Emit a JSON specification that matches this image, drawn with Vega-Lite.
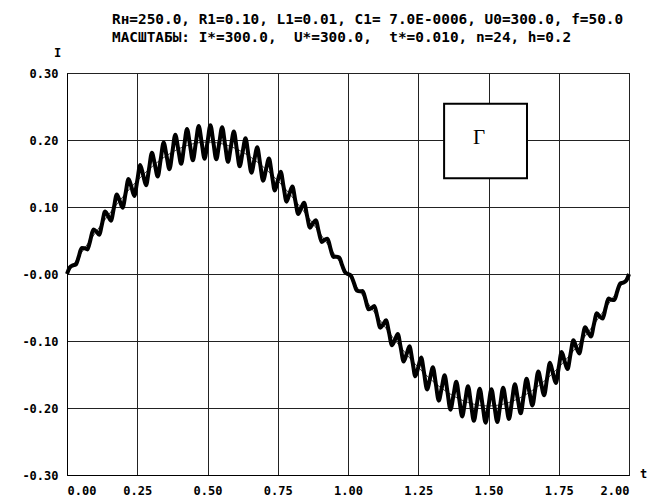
{
 "$schema": "https://vega.github.io/schema/vega-lite/v6.json",
 "width": 562, "height": 402,
 "autosize": {"type": "none"},
 "padding": {"left": 67, "top": 73, "right": 29, "bottom": 25},
 "background": "white",
 "title": {"text": ["Rн=250.0, R1=0.10, L1=0.01, C1= 7.0E-0006, U0=300.0, f=50.0", "МАСШТАБЫ: I*=300.0,\u00a0 U*=300.0,\u00a0 t*=0.010, n=24, h=0.2"], "anchor": "start", "frame": "group", "dx": 45, "font": "DejaVu Sans Mono", "fontSize": 14.4, "fontWeight": "bold", "lineHeight": 18, "offset": 1, "color": "#000"},
 "config": {
  "view": {"stroke": "#000", "strokeWidth": 1},
  "axis": {"grid": true, "gridColor": "#222", "gridOpacity": 1, "domainColor": "#000", "ticks": false, "labelFont": "DejaVu Sans Mono", "labelFontSize": 12, "labelFontWeight": "bold", "labelColor": "#000", "titleFont": "DejaVu Sans Mono", "titleFontSize": 12, "titleFontWeight": "bold", "titleColor": "#000"}
 },
 "datasets": {
  "base": [
   {"t":0,"i":0},{"t":0.0833,"i":0.051},{"t":0.1667,"i":0.0985},{"t":0.25,"i":0.1393},{"t":0.3333,"i":0.1706},{"t":0.4167,"i":0.1903},{"t":0.5,"i":0.197},{"t":0.5833,"i":0.1903},{"t":0.6667,"i":0.1706},{"t":0.75,"i":0.1393},{"t":0.8333,"i":0.0985},{"t":0.9167,"i":0.051},{"t":1,"i":0},
   {"t":1.0833,"i":-0.051},{"t":1.1667,"i":-0.0985},{"t":1.25,"i":-0.1393},{"t":1.3333,"i":-0.1706},{"t":1.4167,"i":-0.1903},{"t":1.5,"i":-0.197},{"t":1.5833,"i":-0.1903},{"t":1.6667,"i":-0.1706},{"t":1.75,"i":-0.1393},{"t":1.8333,"i":-0.0985},{"t":1.9167,"i":-0.051},{"t":2,"i":0}
  ],
  "ripple": [
   {"t":0,"i":0},{"t":0.0104,"i":0.0102},{"t":0.0208,"i":0.0129},{"t":0.0313,"i":0.0142},{"t":0.0417,"i":0.0257},{"t":0.0521,"i":0.0387},{"t":0.0625,"i":0.0384},{"t":0.0729,"i":0.0367},{"t":0.0833,"i":0.051},{"t":0.0938,"i":0.0666},{"t":0.1042,"i":0.0633},{"t":0.1146,"i":0.0586},{"t":0.125,"i":0.0754},{"t":0.1354,"i":0.0934},{"t":0.1458,"i":0.0871},{"t":0.1563,"i":0.0795},{"t":0.1667,"i":0.0985},{"t":0.1771,"i":0.1186},{"t":0.1875,"i":0.1094},{"t":0.1979,"i":0.0989},{"t":0.2083,"i":0.1199},{"t":0.2188,"i":0.1419},{"t":0.2292,"i":0.1299},{"t":0.2396,"i":0.1166},{"t":0.25,"i":0.1393},{"t":0.2604,"i":0.1628},{"t":0.2708,"i":0.1481},{"t":0.2813,"i":0.1323},{"t":0.2917,"i":0.1563},{"t":0.3021,"i":0.181},{"t":0.3125,"i":0.1638},{"t":0.3229,"i":0.1456},{"t":0.3333,"i":0.1706},{"t":0.3438,"i":0.1961},{"t":0.3542,"i":0.1767},{"t":0.3646,"i":0.1564},{"t":0.375,"i":0.182},{"t":0.3854,"i":0.208},{"t":0.3958,"i":0.1865},{"t":0.4063,"i":0.1645},{"t":0.4167,"i":0.1903},{"t":0.4271,"i":0.2163},{"t":0.4375,"i":0.1932},{"t":0.4479,"i":0.1697},{"t":0.4583,"i":0.1953},{"t":0.4688,"i":0.2209},{"t":0.4792,"i":0.1966},{"t":0.4896,"i":0.1719},
   {"t":0.5,"i":0.197},{"t":0.5104,"i":0.2219},{"t":0.5208,"i":0.1966},{"t":0.5313,"i":0.1712},{"t":0.5417,"i":0.1953},{"t":0.5521,"i":0.2191},{"t":0.5625,"i":0.1932},{"t":0.5729,"i":0.1674},{"t":0.5833,"i":0.1903},{"t":0.5938,"i":0.2126},{"t":0.6042,"i":0.1865},{"t":0.6146,"i":0.1608},{"t":0.625,"i":0.182},{"t":0.6354,"i":0.2025},{"t":0.6458,"i":0.1767},{"t":0.6563,"i":0.1513},{"t":0.6667,"i":0.1706},{"t":0.6771,"i":0.189},{"t":0.6875,"i":0.1638},{"t":0.6979,"i":0.1393},{"t":0.7083,"i":0.1563},{"t":0.7188,"i":0.1723},{"t":0.7292,"i":0.1481},{"t":0.7396,"i":0.1247},{"t":0.75,"i":0.1393},{"t":0.7604,"i":0.1527},{"t":0.7708,"i":0.1299},{"t":0.7813,"i":0.108},{"t":0.7917,"i":0.1199},{"t":0.8021,"i":0.1306},{"t":0.8125,"i":0.1094},{"t":0.8229,"i":0.0894},{"t":0.8333,"i":0.0985},{"t":0.8438,"i":0.1062},{"t":0.8542,"i":0.0871},{"t":0.8646,"i":0.0692},{"t":0.875,"i":0.0754},{"t":0.8854,"i":0.0801},{"t":0.8958,"i":0.0633},{"t":0.9063,"i":0.0478},{"t":0.9167,"i":0.051},{"t":0.9271,"i":0.0527},{"t":0.9375,"i":0.0384},{"t":0.9479,"i":0.0255},{"t":0.9583,"i":0.0257},{"t":0.9688,"i":0.0245},{"t":0.9792,"i":0.0129},{"t":0.9896,"i":0.0027},
   {"t":1,"i":0},{"t":1.0104,"i":-0.0027},{"t":1.0208,"i":-0.0129},{"t":1.0313,"i":-0.0245},{"t":1.0417,"i":-0.0257},{"t":1.0521,"i":-0.0255},{"t":1.0625,"i":-0.0384},{"t":1.0729,"i":-0.0527},{"t":1.0833,"i":-0.051},{"t":1.0938,"i":-0.0478},{"t":1.1042,"i":-0.0633},{"t":1.1146,"i":-0.0801},{"t":1.125,"i":-0.0754},{"t":1.1354,"i":-0.0692},{"t":1.1458,"i":-0.0871},{"t":1.1563,"i":-0.1062},{"t":1.1667,"i":-0.0985},{"t":1.1771,"i":-0.0894},{"t":1.1875,"i":-0.1094},{"t":1.1979,"i":-0.1306},{"t":1.2083,"i":-0.1199},{"t":1.2188,"i":-0.108},{"t":1.2292,"i":-0.1299},{"t":1.2396,"i":-0.1527},{"t":1.25,"i":-0.1393},{"t":1.2604,"i":-0.1247},{"t":1.2708,"i":-0.1481},{"t":1.2813,"i":-0.1723},{"t":1.2917,"i":-0.1563},{"t":1.3021,"i":-0.1393},{"t":1.3125,"i":-0.1638},{"t":1.3229,"i":-0.189},{"t":1.3333,"i":-0.1706},{"t":1.3438,"i":-0.1513},{"t":1.3542,"i":-0.1767},{"t":1.3646,"i":-0.2025},{"t":1.375,"i":-0.182},{"t":1.3854,"i":-0.1608},{"t":1.3958,"i":-0.1865},{"t":1.4063,"i":-0.2126},{"t":1.4167,"i":-0.1903},{"t":1.4271,"i":-0.1674},{"t":1.4375,"i":-0.1932},{"t":1.4479,"i":-0.2191},{"t":1.4583,"i":-0.1953},{"t":1.4688,"i":-0.1712},{"t":1.4792,"i":-0.1966},{"t":1.4896,"i":-0.2219},
   {"t":1.5,"i":-0.197},{"t":1.5104,"i":-0.1719},{"t":1.5208,"i":-0.1966},{"t":1.5313,"i":-0.2209},{"t":1.5417,"i":-0.1953},{"t":1.5521,"i":-0.1697},{"t":1.5625,"i":-0.1932},{"t":1.5729,"i":-0.2163},{"t":1.5833,"i":-0.1903},{"t":1.5938,"i":-0.1645},{"t":1.6042,"i":-0.1865},{"t":1.6146,"i":-0.208},{"t":1.625,"i":-0.182},{"t":1.6354,"i":-0.1564},{"t":1.6458,"i":-0.1767},{"t":1.6563,"i":-0.1961},{"t":1.6667,"i":-0.1706},{"t":1.6771,"i":-0.1456},{"t":1.6875,"i":-0.1638},{"t":1.6979,"i":-0.181},{"t":1.7083,"i":-0.1563},{"t":1.7188,"i":-0.1323},{"t":1.7292,"i":-0.1481},{"t":1.7396,"i":-0.1628},{"t":1.75,"i":-0.1393},{"t":1.7604,"i":-0.1166},{"t":1.7708,"i":-0.1299},{"t":1.7813,"i":-0.1419},{"t":1.7917,"i":-0.1199},{"t":1.8021,"i":-0.0989},{"t":1.8125,"i":-0.1094},{"t":1.8229,"i":-0.1186},{"t":1.8333,"i":-0.0985},{"t":1.8438,"i":-0.0795},{"t":1.8542,"i":-0.0871},{"t":1.8646,"i":-0.0934},{"t":1.875,"i":-0.0754},{"t":1.8854,"i":-0.0586},{"t":1.8958,"i":-0.0633},{"t":1.9063,"i":-0.0666},{"t":1.9167,"i":-0.051},{"t":1.9271,"i":-0.0367},{"t":1.9375,"i":-0.0384},{"t":1.9479,"i":-0.0387},{"t":1.9583,"i":-0.0257},{"t":1.9688,"i":-0.0142},{"t":1.9792,"i":-0.0129},{"t":1.9896,"i":-0.0102},{"t":2,"i":0}
  ],
  "box": [{"label": "Г"}]
 },
 "layer": [
  {
   "data": {"name": "base"},
   "mark": {"type": "line", "color": "#444", "strokeWidth": 1, "interpolate": "monotone"},
   "encoding": {
    "x": {"field": "t", "type": "quantitative", "scale": {"domain": [0, 2], "nice": false},
     "axis": {"values": [0, 0.25, 0.5, 0.75, 1, 1.25, 1.5, 1.75, 2], "format": ".2f", "labelPadding": 10, "title": "t", "titleX": 576, "titleY": -2, "titleAlign": "center", "titleBaseline": "middle", "titleAngle": 0}},
    "y": {"field": "i", "type": "quantitative", "scale": {"domain": [-0.3, 0.3], "nice": false},
     "axis": {"values": [-0.3, -0.2, -0.1, 0, 0.1, 0.2, 0.3], "labelExpr": "abs(datum.value) < 0.001 ? '-0.00' : (datum.value < 0 ? '-' : '') + format(abs(datum.value), '.2f')", "labelPadding": 9, "title": "I", "titleAngle": 0, "titleX": -10, "titleY": -21, "titleAlign": "center", "titleBaseline": "middle"}}
   }
  },
  {
   "data": {"name": "ripple"},
   "mark": {"type": "line", "color": "#000", "strokeWidth": 4, "interpolate": "monotone"},
   "encoding": {
    "x": {"field": "t", "type": "quantitative"},
    "y": {"field": "i", "type": "quantitative"}
   }
  },
  {
   "data": {"name": "box"},
   "mark": {"type": "rect", "fill": "white", "stroke": "#000", "strokeWidth": 2},
   "encoding": {"x": {"datum": 1.342}, "x2": {"datum": 1.637}, "y": {"datum": 0.254}, "y2": {"datum": 0.143}}
  },
  {
   "data": {"name": "box"},
   "mark": {"type": "text", "font": "Liberation Serif", "fontSize": 21, "align": "center", "baseline": "middle", "color": "#000"},
   "encoding": {"x": {"datum": 1.466}, "y": {"datum": 0.203}, "text": {"field": "label"}}
  }
 ]
}
